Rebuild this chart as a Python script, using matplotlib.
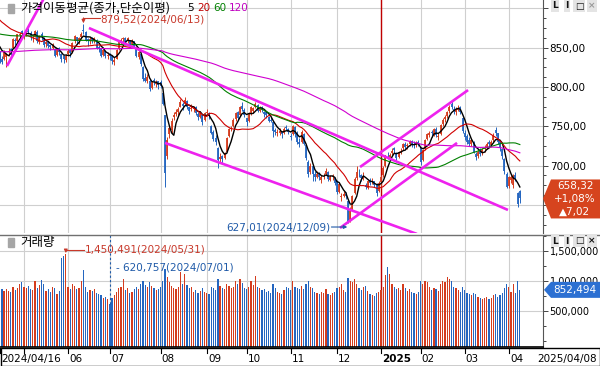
import matplotlib
matplotlib.use("Agg")
import matplotlib.pyplot as plt
import numpy as np
import pandas as pd
from matplotlib.lines import Line2D
from matplotlib.patches import Polygon, Rectangle
from matplotlib.transforms import Affine2D, blended_transform_factory

# KOSDAQ daily candles, 2024/04/16 - 2025/04/08
holidays = ["2024-05-01", "2024-05-06", "2024-05-15", "2024-06-06", "2024-08-15",
            "2024-09-16", "2024-09-17", "2024-09-18", "2024-10-01", "2024-10-03",
            "2024-10-09", "2024-12-25", "2024-12-31", "2025-01-01", "2025-01-27",
            "2025-01-28", "2025-01-29", "2025-01-30", "2025-03-03"]

opens = [
    845, 836, 836, 838, 845, 848, 850, 860, 859, 866, 871,
    866, 867, 871, 869, 862, 864, 870, 857, 867, 862, 855, 857, 853, 850, 848, 841, 850, 842, 840, 834,
    842, 847, 844, 858, 863, 858, 863, 872, 870, 861, 858, 862, 858, 860, 851, 848, 841, 846, 840,
    842, 839, 832, 836, 848, 858, 861, 862, 858, 859, 855, 858, 850, 838, 842, 826, 812, 807, 808, 799, 809, 804, 807,
    806, 793, 764, 712, 740, 745, 762, 766, 768, 775, 778, 779, 782, 774, 772, 772, 775, 766, 762, 765, 758,
    767, 767, 750, 743, 735, 722, 708, 712, 710, 718, 738, 747, 750, 759, 768, 764, 776, 771,
    760, 757, 767, 770, 775, 777, 770, 774, 768, 768, 762, 758, 756, 745, 742, 742, 743, 741, 749, 746,
    738, 740, 749, 741, 730, 730, 740, 726, 705, 692, 700, 690, 686, 690, 682, 687, 689, 692, 682, 686, 684,
    680, 667, 660, 662, 664, 655, 630, 645, 665, 684, 690, 688, 683, 675, 672, 682, 679, 680, 677, 668,
    679, 688, 699, 714, 710, 716, 722, 716, 711, 717, 722, 728, 725, 727, 731, 728, 726, 730,
    722, 707, 721, 734, 739, 743, 740, 747, 736, 740, 753, 759, 763, 770, 779, 772, 768, 771, 774, 760,
    742, 738, 732, 727, 730, 715, 712, 719, 716, 721, 723, 730, 726, 732, 745, 741, 731, 721, 708, 690,
    674, 682, 676, 688, 665, 668,
]
highs = [
    846, 840, 847, 843, 849, 850, 862, 862, 868, 870, 873,
    870, 872, 875, 871, 866, 872, 872, 866, 870, 864, 859, 858, 854, 856, 850, 849, 851, 843, 841, 842,
    848, 848, 857, 866, 864, 864, 870, 879.52, 871, 862, 863, 864, 864, 861, 853, 849, 848, 847, 844,
    843, 840, 838, 848, 858, 862, 864, 863, 864, 860, 861, 859, 851, 846, 843, 827, 818, 816, 810, 808, 812, 809, 808,
    809, 795, 765, 737, 752, 760, 768, 772, 775, 785, 781, 787, 783, 775, 778, 776, 776, 768, 769, 766, 768,
    772, 768, 752, 745, 739, 724, 716, 714, 718, 736, 748, 751, 760, 768, 770, 776, 781, 773,
    761, 768, 776, 775, 781, 778, 776, 776, 769, 770, 763, 762, 757, 748, 747, 748, 744, 749, 752, 748,
    741, 752, 750, 744, 735, 745, 741, 727, 707, 703, 701, 693, 693, 692, 688, 691, 697, 693, 688, 690, 686,
    682, 679, 665, 668, 666, 656, 648, 663, 685, 700, 696, 690, 692, 678, 682, 684, 684, 681, 678, 680,
    688, 699, 714, 718, 716, 722, 724, 717, 719, 723, 729, 730, 729, 733, 733, 731, 731, 733,
    723, 721, 734, 742, 744, 745, 748, 749, 741, 753, 760, 764, 770, 777, 782, 776, 775, 777, 776, 762,
    745, 740, 736, 735, 731, 718, 720, 722, 723, 726, 730, 733, 733, 742, 749, 742, 733, 723, 710, 692,
    687, 690, 690, 692, 667, 669,
]
lows = [
    830, 829, 834, 826, 840, 841, 849, 853, 857, 862, 865,
    861, 865, 867, 860, 857, 863, 856, 855, 860, 851, 851, 849, 847, 848, 838, 840, 841, 832, 830, 832,
    840, 838, 843, 856, 855, 855, 861, 868, 858, 852, 855, 856, 856, 848, 845, 838, 839, 837, 836,
    834, 829, 828, 835, 847, 855, 857, 854, 856, 851, 853, 849, 838, 836, 827, 808, 806, 805, 795, 797, 803, 800, 798,
    799, 777, 673, 708, 735, 742, 758, 763, 765, 774, 771, 777, 772, 766, 770, 768, 764, 758, 760, 752, 757,
    764, 759, 740, 731, 726, 697, 704, 702, 708, 717, 737, 744, 749, 757, 758, 763, 769, 762,
    751, 756, 765, 767, 773, 768, 768, 768, 762, 761, 755, 755, 737, 739, 738, 739, 735, 740, 745, 740,
    732, 739, 737, 728, 724, 729, 726, 707, 686, 689, 681, 680, 684, 682, 678, 683, 688, 680, 680, 682, 675,
    664, 665, 655, 660, 657, 627.01, 628, 643, 664, 682, 685, 680, 682, 670, 670, 675, 677, 673, 662, 666,
    672, 686, 698, 708, 707, 714, 716, 707, 710, 715, 720, 721, 721, 725, 724, 723, 724, 725,
    701, 706, 720, 732, 736, 736, 738, 736, 733, 739, 751, 756, 761, 767, 772, 766, 765, 769, 766, 741,
    732, 727, 725, 725, 716, 707, 710, 712, 714, 718, 721, 724, 724, 730, 738, 728, 719, 709, 690, 671,
    672, 678, 672, 680, 648, 653,
]
closes = [
    833, 832, 846, 842, 846, 846, 861, 858, 867, 868, 869,
    866, 868, 870, 863, 862, 871, 858, 865, 863, 853, 857, 852, 851, 854, 840, 848, 844, 835, 836, 840,
    846, 843, 856, 865, 858, 862, 868, 871, 860, 858, 861, 859, 862, 850, 849, 840, 847, 839, 841,
    840, 833, 834, 847, 857, 860, 862, 857, 862, 853, 859, 851, 840, 844, 829, 810, 808, 813, 798, 806, 807, 806, 803,
    801, 779, 691.28, 733, 748, 757, 764, 768, 772, 781, 776, 783, 775, 770, 773, 773, 767, 762, 767, 756, 767,
    768, 763, 742, 734, 730, 707, 711, 709, 716, 735, 746, 748, 758, 767, 760, 774, 772, 764,
    755, 766, 774, 773, 778, 770, 773, 771, 766, 764, 757, 757, 744, 743, 743, 744, 740, 747, 748, 743,
    736, 750, 740, 730, 727, 743, 728, 710, 690, 700, 690, 685, 690, 685, 686, 687, 693, 683, 685, 687, 678,
    666, 677, 661, 664, 661, 627.01, 643, 661, 683, 692, 689, 684, 687, 673, 680, 678, 681, 676, 665, 678,
    686, 697, 713, 713, 714, 719, 720, 710, 718, 719, 728, 724, 726, 730, 727, 726, 729, 728,
    705, 720, 733, 740, 741, 741, 746, 739, 738, 752, 758, 762, 768, 774, 775, 770, 772, 773, 768, 744,
    736, 730, 728, 732, 718, 711, 718, 715, 720, 722, 728, 727, 730, 738, 742, 730, 722, 712, 693, 673,
    685, 685, 686, 684, 651.30, 658.32,
]
volumes_k = [
    880, 860, 840, 870, 830, 810, 900, 850, 880, 950, 980,
    900, 880, 920, 860, 850, 1000, 880, 930, 1020, 950, 840, 870, 820, 900, 880, 790, 840, 1380, 1410, 1450.491,
    900, 870, 950, 920, 860, 880, 1000, 1180, 900, 820, 850, 830, 860, 800, 780, 760, 720, 740, 700,
    620.757, 720, 760, 820, 880, 900, 1030, 850, 880, 800, 820, 860, 900, 870, 950, 1000, 940, 900, 980, 910, 880, 850, 870,
    900, 1000, 1200, 1070, 980, 920, 880, 860, 900, 1150, 950, 1120, 940, 880, 900, 820, 850, 800, 830, 880, 820,
    800, 780, 900, 880, 850, 1030, 920, 880, 860, 950, 920, 880, 900, 1000, 950, 1040, 960, 880,
    870, 900, 1000, 940, 1090, 900, 880, 850, 860, 820, 840, 800, 950, 880, 820, 800, 780, 850, 900, 880,
    850, 1000, 900, 880, 860, 920, 870, 950, 1000, 900, 880, 820, 800, 780, 820, 800, 860, 780, 760, 800, 820,
    880, 900, 950, 850, 820, 1050, 1000, 980, 1030, 950, 880, 850, 900, 920, 830, 780, 760, 750, 800, 820,
    850, 900, 1100, 1240, 1120, 950, 900, 860, 880, 850, 950, 880, 840, 860, 820, 800, 780, 820,
    1000, 950, 1000, 980, 900, 850, 880, 860, 840, 950, 1000, 980, 1070, 1040, 1000, 900, 880, 850, 820, 900,
    850, 800, 780, 760, 800, 780, 740, 720, 700, 720, 740, 700, 720, 760, 780, 740, 760, 800, 880, 950,
    900, 820, 950, 800, 1000, 852.494,
]

# level assumed for the closes before the first visible day (MA warm-up)
ma_seed = {5: 856, 20: 888, 60: 868, 120: 845}
ma_colors = {5: "#000000", 20: "#d00000", 60: "#008000", 120: "#d000d0"}

# drawn trend lines: ((day index, price), (day index, price))
trend_lines = [
    ((3.3, 826.7), (21.3, 919.0)),
    ((40.5, 875.0), (230.6, 643.7)),
    ((75.0, 728.9), (189.3, 613.2)),
    ((163.5, 698.3), (212.5, 796.1)),
    ((154.4, 620.8), (207.5, 728.9)),
]

dates = pd.bdate_range("2024-04-16", "2025-04-08")
dates = dates[~dates.isin(pd.to_datetime(holidays))]
n = len(dates)
for arr in (opens, highs, lows, closes, volumes_k):
    assert len(arr) == n, (len(arr), n)

RED = "#d43c1e"
BLUE = "#2466c0"
RED_TXT = "#c8382a"
BLUE_TXT = "#1f5aa8"
GRID = "#cfcfcf"
TREND = "#ee22ee"
KR = ["Noto Sans CJK KR", "DejaVu Sans"]
plt.rcParams["font.family"] = ["DejaVu Sans"]

o, h, l, c = (np.asarray(a, dtype=float) for a in (opens, highs, lows, closes))
vol = np.asarray(volumes_k) * 1000
x = np.arange(n)
colors = np.where(c >= o, RED, BLUE)

W, H = 600, 366
fig = plt.figure(figsize=(W / 100, H / 100), dpi=100)
pix = Affine2D().scale(1 / W, -1 / H).translate(0, 1) + fig.transFigure

ax = fig.add_axes([0, 1 - 233 / H, 543 / W, 233 / H])
vax = fig.add_axes([0, 1 - 347 / H, 543 / W, 112 / H])
vmin_axis, vmax_axis = -100000, 1767000
for a, size in ((ax, 7.5), (vax, 7)):
    a.set_xlim(0.14, 246.5)
    a.spines["top"].set_visible(False)
    a.spines["left"].set_visible(False)
    a.spines["right"].set_color("#555555")
    a.set_xticks([])
    a.yaxis.tick_right()
    a.tick_params(axis="y", which="both", direction="out", length=3.6, width=0.7,
                  colors="#444444", labelcolor="black", labelsize=size, pad=1.2)
    a.tick_params(axis="y", which="minor", length=2.5)
ax.spines["bottom"].set_visible(False)
vax.spines["bottom"].set_color("black")
vax.spines["bottom"].set_linewidth(1.2)
ax.set_ylim(614.4, 910.6)
vax.set_ylim(vmin_axis, vmax_axis)

price_ticks = [650, 700, 750, 800, 850, 900]
ax.set_yticks(price_ticks)
ax.set_yticklabels([f"{v:.2f}".replace(".", ",") if 700 <= v <= 850 else "" for v in price_ticks])
ax.set_yticks(np.arange(625, 911, 12.5), minor=True)
vol_ticks = [500000, 1000000, 1500000]
vax.set_yticks(vol_ticks)
vax.set_yticklabels([f"{v:,}" for v in vol_ticks])
vax.set_yticks(np.arange(0, 1750001, 250000), minor=True)

# grid
month_idx = [i for i in range(1, n) if dates[i].month != dates[i - 1].month]
year_idx = [i for i in month_idx if dates[i].month == 1][0]
for a in (ax, vax):
    for i in month_idx:
        a.axvline(i, color=GRID, lw=0.8, zorder=0)
    a.axvline(year_idx, color="#c00000", lw=1.0, zorder=1.5)
for v in price_ticks:
    ax.axhline(v, color=GRID, lw=0.8, zorder=0)
for v in vol_ticks:
    vax.axhline(v, color=GRID, lw=0.8, zorder=0)

# candles
ax.vlines(x, l, h, colors=colors, lw=0.7, zorder=2)
ax.vlines(x, np.minimum(o, c), np.maximum(o, c), colors=colors, lw=1.3, zorder=2)

# moving averages
close_s = pd.Series(c)
for win, col in ma_colors.items():
    padded = pd.concat([pd.Series([float(ma_seed[win])] * (win - 1)), close_s], ignore_index=True)
    ma = padded.rolling(win).mean().iloc[win - 1:].to_numpy()
    ax.plot(x, ma, color=col, lw=1.0 if win == 5 else 0.8, zorder=3)

for (x0, y0), (x1, y1) in trend_lines:
    ax.plot([x0, x1], [y0, y1], color=TREND, lw=1.9, solid_capstyle="butt", zorder=4)

# high / low markers
imax = int(np.argmax(h))
ytxt = h[imax] + 8.0
ax.plot([imax, imax + 7.3], [ytxt, ytxt], color=RED_TXT, lw=0.8, zorder=5)
ax.annotate("", xy=(imax, h[imax] + 1.5), xytext=(imax, ytxt + 0.3),
            arrowprops=dict(arrowstyle="-|>", color=RED_TXT, lw=0.8, mutation_scale=5,
                            shrinkA=0, shrinkB=0), zorder=5)
ax.text(imax + 7.6, ytxt - 1.5, f"{h[imax]:.2f}".replace(".", ",") + f"({dates[imax]:%Y/%m/%d})",
        color=RED_TXT, fontsize=7.5, va="center", ha="left", zorder=5)

imin = int(np.argmin(l))
ytxt = l[imin] - 5
ax.text(imin - 7.8, ytxt, f"{l[imin]:.2f}".replace(".", ",") + f"({dates[imin]:%Y/%m/%d})",
        color=BLUE_TXT, fontsize=7.5, va="center", ha="right", zorder=5)
ax.annotate("", xy=(imin - 0.3, ytxt), xytext=(imin - 7.5, ytxt),
            arrowprops=dict(arrowstyle="-|>", color=BLUE_TXT, lw=0.8, mutation_scale=5,
                            shrinkA=0, shrinkB=0), zorder=5)

# volume bars
vax.bar(x, vol - vmin_axis, bottom=vmin_axis, width=0.55, color=colors, linewidth=0, zorder=2)

jmax = int(np.argmax(vol))
vtxt = 1517000
vax.plot([jmax, jmax + 8.2], [vtxt, vtxt], color=RED_TXT, lw=0.8, zorder=5)
vax.annotate("", xy=(jmax, vol[jmax] + 15000), xytext=(jmax, vtxt + 5000),
             arrowprops=dict(arrowstyle="-|>", color=RED_TXT, lw=0.8, mutation_scale=5,
                             shrinkA=0, shrinkB=0), zorder=5)
vax.text(jmax + 8.5, vtxt, f"{vol[jmax]:,.0f}({dates[jmax]:%Y/%m/%d})",
         color=RED_TXT, fontsize=7.5, va="center", ha="left", zorder=5)

jmin = int(np.argmin(vol))
vax.vlines(jmin, vol[jmin], vmax_axis, colors=BLUE_TXT, lw=0.8, linestyles=(0, (2, 2)), zorder=5)
vax.text(jmin + 2.8, 1233000, f"- {vol[jmin]:,.0f}({dates[jmin]:%Y/%m/%d})",
         color=BLUE_TXT, fontsize=7.5, va="center", ha="left", zorder=5)

# panel legends
fig.patches.append(Rectangle((8, 4), 6, 9, transform=pix, color="#a6a6a6", figure=fig))
fig.text(20, 8, "가격이동평균(종가,단순이평)", transform=pix, family=KR, fontsize=9, va="center")
for s, col, xp in [("5", "black", 187), ("20", "#c00000", 197), ("60", "#008000", 213),
                   ("120", "#c000c0", 229)]:
    fig.text(xp, 8, s, transform=pix, color=col, fontsize=7.5, va="center")
fig.patches.append(Rectangle((8, 238), 6, 9, transform=pix, color="#a6a6a6", figure=fig))
fig.text(20, 242.5, "거래량", transform=pix, family=KR, fontsize=9, va="center")

for yy in (6, 241):
    for s, xp, col in [("L", 555, "#111111"), ("I", 567, "#111111"), ("□", 579, "#111111"),
                       ("×", 592, "#999999" if yy == 6 else "#111111")]:
        fig.text(xp, yy, s, transform=pix, fontsize=6.5, fontweight="bold", color=col,
                 ha="center", va="center",
                 bbox=dict(boxstyle="square,pad=0.15", fc="#e4e4e4", ec="none"))

# panel separator and date strip
fig.lines.append(Line2D([0, 600], [234.5, 234.5], transform=pix, color="#707070", lw=1.0))
fig.patches.append(Rectangle((0.5, 347.5), 599, 18, transform=pix, fill=False, ec="black",
                             lw=1.0, figure=fig))
strip = blended_transform_factory(vax.transData, pix)
tick_pos = [0] + month_idx
for i in tick_pos:
    fig.lines.append(Line2D([i, i], [348, 353], transform=strip, color="black", lw=0.8))
    if dates[i].month == 5:
        continue
    if i == 0:
        label, weight = f"{dates[i]:%Y/%m/%d}", "normal"
    elif dates[i].month == 1:
        label, weight = f"{dates[i]:%Y}", "bold"
    else:
        label, weight = f"{dates[i]:%m}", "normal"
    fig.text(i + 0.5, 359, label, transform=strip, fontsize=7.5, fontweight=weight,
             ha="left", va="center")
fig.text(597, 359, f"{dates[-1]:%Y/%m/%d}", transform=pix, fontsize=7.5, ha="right", va="center")

# last price / last volume boxes
ty = H - ax.transData.transform((0, c[-1]))[1]
fig.patches.append(Polygon([(543, ty), (551, ty - 19), (600, ty - 19), (600, ty + 20),
                            (551, ty + 20)], closed=True, transform=pix, fc="#d6441e",
                           ec="none", figure=fig))
chg = c[-1] - c[-2]
pct = chg / c[-2] * 100
for dy, s in [(-12, f"{c[-1]:.2f}"), (0.5, f"+{pct:.2f}%"), (13.5, f"▲{chg:.2f}")]:
    fig.text(575, ty + dy, s.replace(".", ","), transform=pix, color="white", fontsize=7.5,
             ha="center", va="center")

vy = H - vax.transData.transform((0, vol[-1]))[1]
fig.patches.append(Polygon([(544, vy), (551, vy - 8), (600, vy - 8), (600, vy + 8),
                            (551, vy + 8)], closed=True, transform=pix, fc="#2c70d2",
                           ec="none", figure=fig))
fig.text(575, vy, f"{vol[-1]:,.0f}", transform=pix, color="white", fontsize=7.5,
         ha="center", va="center")

fig.savefig("out.png", dpi=100)
plt.close(fig)
